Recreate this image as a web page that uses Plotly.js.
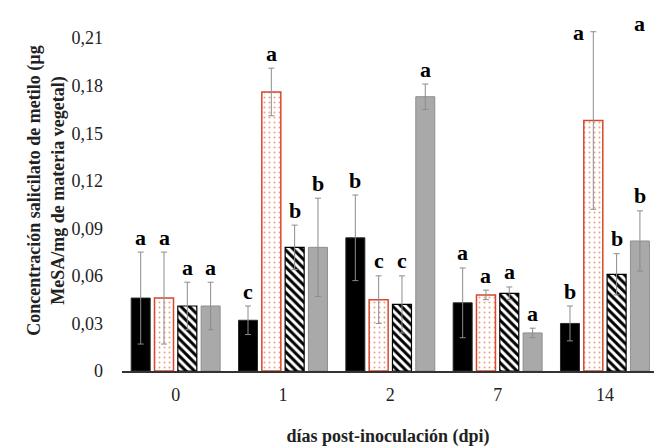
<!DOCTYPE html>
<html>
<head>
<meta charset="utf-8">
<script src="https://cdn.plot.ly/plotly-3.0.1.min.js"></script>
<style>html,body{margin:0;padding:0;background:#fff;}#chart{width:654px;height:447px;}</style>
</head>
<body>
<div id="chart"></div>
<script>
// Data
const days = ["0", "1", "2", "7", "14"];
const seriesNames = ["Tratamiento 1", "Tratamiento 2", "Tratamiento 3", "Tratamiento 4"];
const valBlack  = [0.046, 0.032, 0.084, 0.043, 0.030];
const errBlack  = [0.029, 0.009, 0.027, 0.022, 0.011];
const valDotted = [0.046, 0.176, 0.045, 0.048, 0.158];
const errDotted = [0.029, 0.015, 0.015, 0.003, 0.056];
const valHatch  = [0.041, 0.078, 0.042, 0.049, 0.061];
const errHatch  = [0.015, 0.014, 0.018, 0.004, 0.013];
const valGray   = [0.041, 0.078, 0.173, 0.024, 0.082];
const errGray   = [0.015, 0.031, 0.008, 0.003, 0.019];
const lettersBlack  = ["a", "c", "b", "a", "b"];
const lettersDotted = ["a", "a", "c", "a", "a"];
const lettersHatch  = ["a", "b", "c", "a", "b"];
const lettersGray   = ["a", "b", "a", "a", "b"];
const extraLetter = "a";
const yTickVals = [0, 0.03, 0.06, 0.09, 0.12, 0.15, 0.18, 0.21];
const yTickText = ["0", "0,03", "0,06", "0,09", "0,12", "0,15", "0,18", "0,21"];

const serif = "Liberation Serif, Times New Roman, serif";
const bargap = 0.131;
const errStyle = (arr) => ({type: "data", array: arr, visible: true, color: "#8c8c8c", thickness: 1, width: 3});

const traces = [
  {type: "bar", name: seriesNames[0], x: days, y: valBlack, error_y: errStyle(errBlack),
   marker: {color: "#000000", line: {color: "#2a2a2a", width: 1}}},
  {type: "bar", name: seriesNames[1], x: days, y: valDotted, error_y: errStyle(errDotted),
   marker: {color: "#ffffff", line: {color: "#d9472b", width: 1.5},
            pattern: {shape: ".", fgcolor: "#eba08c", bgcolor: "#ffffff", size: 5, solidity: 0.12, fillmode: "replace"}}},
  {type: "bar", name: seriesNames[2], x: days, y: valHatch, error_y: errStyle(errHatch),
   marker: {color: "#ffffff", line: {color: "#000000", width: 1.2},
            pattern: {shape: "\\", fgcolor: "#000000", bgcolor: "#ffffff", size: 6, solidity: 0.5, fillmode: "replace"}}},
  {type: "bar", name: seriesNames[3], x: days, y: valGray, error_y: errStyle(errGray),
   marker: {color: "#a9a9a9", line: {color: "#8f8f8f", width: 1}}}
];

const vals = [valBlack, valDotted, valHatch, valGray];
const errs = [errBlack, errDotted, errHatch, errGray];
const letters = [lettersBlack, lettersDotted, lettersHatch, lettersGray];
const slot = (1 - bargap) / 4;
const annotations = [];
letters.forEach((lst, j) => {
  lst.forEach((L, i) => {
    const special = (j === 1 && i === 4);
    annotations.push({
      x: i + (j - 1.5) * slot, y: vals[j][i] + errs[j][i], xref: "x", yref: "y",
      text: L, showarrow: false, yanchor: "middle",
      xshift: special ? -15 : 0, yshift: special ? -1 : 15,
      font: {family: serif, size: 22, color: "#000", weight: "bold"}
    });
  });
});
annotations.push({
  x: 4 + 1.5 * slot, y: 0.2195, xref: "x", yref: "y", text: extraLetter, showarrow: false,
  yanchor: "middle", font: {family: serif, size: 22, color: "#000", weight: "bold"}
});

const layout = {
  width: 654, height: 447,
  margin: {l: 122, r: 0, t: 10, b: 76},
  paper_bgcolor: "#ffffff", plot_bgcolor: "#ffffff",
  barmode: "group", bargap: bargap, bargroupgap: 0.185,
  showlegend: false,
  font: {family: serif, size: 18, color: "#222"},
  xaxis: {
    type: "category", range: [-0.5, 4.457], showgrid: false, zeroline: false,
    showline: true, linecolor: "#333", linewidth: 1.5, ticks: "", ticklabelstandoff: 7,
    tickfont: {family: serif, size: 18, color: "#222"}, automargin: false,
    title: {text: "días post-inoculación (dpi)", standoff: 25,
            font: {family: serif, size: 18, color: "#222", weight: "bold"}}
  },
  yaxis: {
    range: [0, 0.2277], showgrid: false, zeroline: false, showline: false, ticks: "",
    tickvals: yTickVals, ticktext: yTickText, ticklabelstandoff: 18, automargin: false,
    tickfont: {family: serif, size: 18, color: "#222"},
    title: {text: "Concentración salicilato de metilo (µg<br>MeSA/mg de materia vegetal)", standoff: 2,
            font: {family: serif, size: 18, color: "#222", weight: "bold"}}
  },
  annotations: annotations
};

Plotly.newPlot("chart", traces, layout, {displayModeBar: false, staticPlot: true});
</script>
</body>
</html>
